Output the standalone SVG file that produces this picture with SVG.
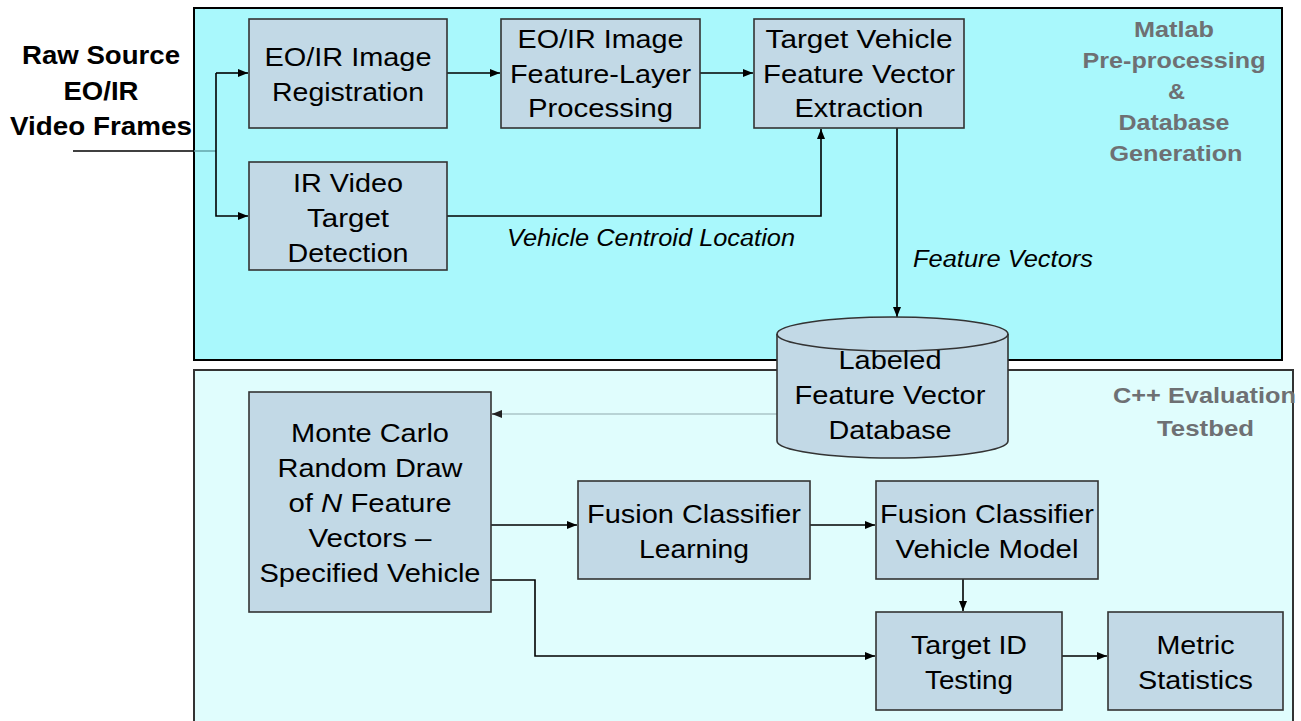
<svg xmlns="http://www.w3.org/2000/svg" width="1301" height="721" viewBox="0 0 1301 721">
  <style>
    text { font-family: "Liberation Sans", Arial, sans-serif; fill: #000; }
    .t { font-size: 26px; }
    .b { font-size: 26px; font-weight: bold; }
    .i { font-size: 23.5px; font-style: italic; }
    .g { font-size: 21.5px; font-weight: bold; fill: #6e7073; }
    .box { fill: #c2d9e6; stroke: #333; stroke-width: 1.6; }
    .wire { fill: none; stroke: #000; stroke-width: 1.6; }
  </style>
  <defs>
    <marker id="arrow" markerUnits="userSpaceOnUse" markerWidth="11" markerHeight="9" refX="10" refY="4" orient="auto">
      <path d="M0,0 L10,4 L0,8 z" fill="#000"/>
    </marker>
    <marker id="arrowGray" markerUnits="userSpaceOnUse" markerWidth="11" markerHeight="9" refX="10" refY="4" orient="auto">
      <path d="M0,0 L10,4 L0,8 z" fill="#222"/>
    </marker>
  </defs>

  <!-- white page -->
  <rect x="0" y="0" width="1301" height="721" fill="#fff"/>

  <!-- containers -->
  <g id="matlab-stage">
    <rect x="194" y="8" width="1088" height="352" fill="#a9f8fc" stroke="#000" stroke-width="2"/>
    <text class="g" x="1134" y="37" textLength="80" lengthAdjust="spacingAndGlyphs">Matlab</text>
    <text class="g" x="1082.5" y="68" textLength="183" lengthAdjust="spacingAndGlyphs">Pre-processing</text>
    <text class="g" x="1168" y="99" textLength="17" lengthAdjust="spacingAndGlyphs">&amp;</text>
    <text class="g" x="1118.5" y="130" textLength="111" lengthAdjust="spacingAndGlyphs">Database</text>
    <text class="g" x="1109.5" y="161" textLength="133" lengthAdjust="spacingAndGlyphs">Generation</text>
  </g>
  <g id="cpp-stage">
    <rect x="194" y="370" width="1099" height="370" fill="#e0fdfd" stroke="#333" stroke-width="2"/>
    <text class="g" x="1113" y="403" textLength="183" lengthAdjust="spacingAndGlyphs">C++ Evaluation</text>
    <text class="g" x="1157" y="436" textLength="97" lengthAdjust="spacingAndGlyphs">Testbed</text>
  </g>

  <!-- source label -->
  <g id="raw-source">
    <text class="b" x="22" y="64" textLength="158" lengthAdjust="spacingAndGlyphs">Raw Source</text>
    <text class="b" x="63.5" y="100" textLength="75" lengthAdjust="spacingAndGlyphs">EO/IR</text>
    <text class="b" x="10" y="135" textLength="182" lengthAdjust="spacingAndGlyphs">Video Frames</text>
  </g>

  <!-- connectors -->
  <g id="connectors">
    <line x1="73" y1="151" x2="194" y2="151" stroke="#000" stroke-width="1.6"/>
    <line x1="194" y1="151" x2="216" y2="151" stroke="#5e9ea4" stroke-width="1.4"/>
    <line class="wire" x1="216" y1="73" x2="248" y2="73" marker-end="url(#arrow)"/>
    <polyline class="wire" points="216,73 216,216 248,216" marker-end="url(#arrow)"/>
    <line class="wire" x1="447" y1="73" x2="500" y2="73" marker-end="url(#arrow)"/>
    <line class="wire" x1="700" y1="73" x2="753" y2="73" marker-end="url(#arrow)"/>
    <polyline class="wire" points="447,216 821,216 821,129" marker-end="url(#arrow)"/>
    <line class="wire" x1="897" y1="128" x2="897" y2="317" marker-end="url(#arrow)"/>
    <line x1="777" y1="414" x2="500" y2="414" stroke="#8fa9ad" stroke-width="1.2"/>
    <line x1="502" y1="414" x2="492" y2="414" stroke="#222" stroke-width="1.2" marker-end="url(#arrowGray)"/>
    <line class="wire" x1="491" y1="525" x2="577" y2="525" marker-end="url(#arrow)"/>
    <line class="wire" x1="810" y1="525" x2="875" y2="525" marker-end="url(#arrow)"/>
    <line class="wire" x1="963" y1="579" x2="963" y2="611" marker-end="url(#arrow)"/>
    <polyline class="wire" points="491,580 535,580 535,656 875,656" marker-end="url(#arrow)"/>
    <line class="wire" x1="1062" y1="656" x2="1107" y2="656" marker-end="url(#arrow)"/>
    <text class="i" x="507" y="246" textLength="288" lengthAdjust="spacingAndGlyphs">Vehicle Centroid Location</text>
    <text class="i" x="913" y="267" textLength="180" lengthAdjust="spacingAndGlyphs">Feature Vectors</text>
  </g>

  <!-- processing nodes -->
  <g id="registration">
    <rect class="box" x="249" y="19" width="198" height="109"/>
    <text class="t" x="264.5" y="66" textLength="167" lengthAdjust="spacingAndGlyphs">EO/IR Image</text>
    <text class="t" x="272" y="101" textLength="152" lengthAdjust="spacingAndGlyphs">Registration</text>
  </g>
  <g id="feature-layer">
    <rect class="box" x="501" y="19" width="199" height="109"/>
    <text class="t" x="517.5" y="48" textLength="166" lengthAdjust="spacingAndGlyphs">EO/IR Image</text>
    <text class="t" x="510" y="83" textLength="181" lengthAdjust="spacingAndGlyphs">Feature-Layer</text>
    <text class="t" x="528" y="117" textLength="145" lengthAdjust="spacingAndGlyphs">Processing</text>
  </g>
  <g id="vector-extraction">
    <rect class="box" x="754" y="19" width="210" height="109"/>
    <text class="t" x="765.5" y="48" textLength="187" lengthAdjust="spacingAndGlyphs">Target Vehicle</text>
    <text class="t" x="763" y="83" textLength="192" lengthAdjust="spacingAndGlyphs">Feature Vector</text>
    <text class="t" x="794.5" y="117" textLength="129" lengthAdjust="spacingAndGlyphs">Extraction</text>
  </g>
  <g id="ir-detection">
    <rect class="box" x="249" y="162" width="198" height="108"/>
    <text class="t" x="293" y="192" textLength="110" lengthAdjust="spacingAndGlyphs">IR Video</text>
    <text class="t" x="307" y="227" textLength="82" lengthAdjust="spacingAndGlyphs">Target</text>
    <text class="t" x="287.5" y="262" textLength="121" lengthAdjust="spacingAndGlyphs">Detection</text>
  </g>
  <g id="database">
    <path d="M777,334 A115.5,17 0 0,1 1008,334 L1008,441 A115.5,17 0 0,1 777,441 Z" fill="#c2d9e6" stroke="#333" stroke-width="1.6"/>
    <path d="M777,334 A115.5,17 0 0,0 1008,334" fill="none" stroke="#333" stroke-width="1.6"/>
    <text class="t" x="838.5" y="369" textLength="103" lengthAdjust="spacingAndGlyphs">Labeled</text>
    <text class="t" x="794.5" y="404" textLength="191" lengthAdjust="spacingAndGlyphs">Feature Vector</text>
    <text class="t" x="828.5" y="439" textLength="123" lengthAdjust="spacingAndGlyphs">Database</text>
  </g>
  <g id="monte-carlo">
    <rect class="box" x="249" y="392" width="242" height="220"/>
    <text class="t" x="291" y="442" textLength="158" lengthAdjust="spacingAndGlyphs">Monte Carlo</text>
    <text class="t" x="277.5" y="477" textLength="185" lengthAdjust="spacingAndGlyphs">Random Draw</text>
    <text class="t" x="288.5" y="512" textLength="163" lengthAdjust="spacingAndGlyphs">of <tspan font-style="italic">N</tspan> Feature</text>
    <text class="t" x="308.5" y="547" textLength="123" lengthAdjust="spacingAndGlyphs">Vectors –</text>
    <text class="t" x="259.5" y="582" textLength="221" lengthAdjust="spacingAndGlyphs">Specified Vehicle</text>
  </g>
  <g id="classifier-learning">
    <rect class="box" x="578" y="481" width="232" height="98"/>
    <text class="t" x="587" y="523" textLength="214" lengthAdjust="spacingAndGlyphs">Fusion Classifier</text>
    <text class="t" x="639" y="558" textLength="110" lengthAdjust="spacingAndGlyphs">Learning</text>
  </g>
  <g id="vehicle-model">
    <rect class="box" x="876" y="481" width="222" height="98"/>
    <text class="t" x="880" y="523" textLength="214" lengthAdjust="spacingAndGlyphs">Fusion Classifier</text>
    <text class="t" x="895.5" y="558" textLength="183" lengthAdjust="spacingAndGlyphs">Vehicle Model</text>
  </g>
  <g id="target-id">
    <rect class="box" x="876" y="612" width="186" height="98"/>
    <text class="t" x="911" y="654" textLength="116" lengthAdjust="spacingAndGlyphs">Target ID</text>
    <text class="t" x="925" y="689" textLength="88" lengthAdjust="spacingAndGlyphs">Testing</text>
  </g>
  <g id="metric-statistics">
    <rect class="box" x="1108" y="612" width="175" height="98"/>
    <text class="t" x="1156.5" y="654" textLength="78" lengthAdjust="spacingAndGlyphs">Metric</text>
    <text class="t" x="1138" y="689" textLength="115" lengthAdjust="spacingAndGlyphs">Statistics</text>
  </g>
</svg>
